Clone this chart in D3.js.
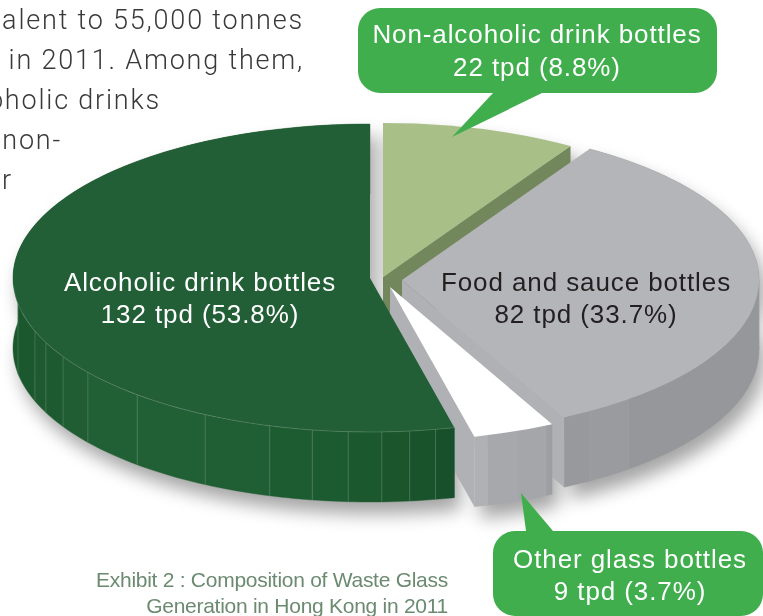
<!DOCTYPE html>
<html>
<head>
<meta charset="utf-8">
<script src="https://cdn.jsdelivr.net/npm/d3@7/dist/d3.min.js"></script>
<style>
html,body{margin:0;padding:0;background:#fff;overflow:hidden}
svg{display:block;font-family:"Liberation Sans",Arial,sans-serif}
</style>
</head>
<body>
<div id="chart"></div>
<script>
// Composition of waste glass, tonnes per day and share of the total
const categories = ["Non-alcoholic drink bottles", "Food and sauce bottles", "Other glass bottles", "Alcoholic drink bottles"];
const tpd = [22, 82, 9, 132];
const shares = [8.8, 33.7, 3.7, 53.8];

// Body copy running beside the chart
const bodyLines = ["alent to 55,000 tonnes", "in 2011. Among them,", "oholic drinks", "non-", "or"];
const captionLines = ["Exhibit 2 : Composition of Waste Glass", "Generation in Hong Kong in 2011"];

// Where the moulded side walls of each slice change facet (degrees clockwise from 12 o'clock)
const facetAngles = [
  [],
  [90, 140.7, 148.2],
  [154.1, 159.3, 164.2],
  [169.4, 173.6, 178.1, 183.5, 189.3, 196.3, 207.5, 220.7, 232.2, 239.3, 245.2, 249.8, 260.4]
];
const topColors = ["#a9bf88", "#b4b5b9", "#ffffff", "#225f36"];
const cutColors = ["#73875c", "#b0b1b5", "#b0b1b5", "#225f36"];
const wallColors = [
  [],
  ["#9a9b9f", "#96979a", "#9a9b9e", "#98999d"],
  ["#9e9fa3", "#a5a6aa", "#a7a8ac", "#b0b1b5"],
  ["#17502a", "#19532b", "#1a552c", "#1b582e", "#1c5a2f", "#1d5c31", "#205e33", "#215f34", "#215f34", "#205d32", "#1e5a30", "#1d5a2f", "#1c582e", "#1b572d", "#1b572d"]
];

const width = 763, height = 616;
const rx = 357, ry = 154, depth = 70;
const squash = ry / rx;
// Exploded centre of each slice
const centres = [[383, 277], [402, 280], [390, 287], [370, 278]];

const svg = d3.select("#chart").append("svg").attr("width", width).attr("height", height);
const defs = svg.append("defs");
defs.append("filter").attr("id", "soft").attr("x", "-20%").attr("y", "-20%").attr("width", "140%").attr("height", "150%")
  .append("feGaussianBlur").attr("stdDeviation", 9);

const pie = d3.pie().sort(null).value(d => d);
const slices = pie(shares);
const arc = d3.arc().innerRadius(0).outerRadius(rx);
const deg = d3.scaleLinear().domain([0, 360]).range([0, 2 * Math.PI]);

const rim = (i, a, dy = 0) => [centres[i][0] + rx * Math.sin(a), centres[i][1] - ry * Math.cos(a) + dy];
const line = d3.line();

function wallBand(i, a0, a1) {
  const n = Math.max(2, Math.ceil(Math.abs(a1 - a0) / 0.02));
  const steps = d3.range(0, n + 1).map(k => a0 + (a1 - a0) * k / n);
  const upper = steps.map(a => rim(i, a));
  const lower = steps.slice().reverse().map(a => rim(i, a, depth));
  return line(upper.concat(lower)) + "Z";
}
function cutWall(i, a) {
  const c = centres[i];
  const e = rim(i, a);
  return line([c, e, [e[0], e[1] + depth], [c[0], c[1] + depth]]) + "Z";
}
function topPath(i) { return arc(slices[i]); }
function topTransform(i) { return `translate(${centres[i][0]},${centres[i][1]}) scale(1,${squash})`; }

// Blurred ground shadow, thrown down and to the right of every slice
const shadow = svg.append("g").attr("filter", "url(#soft)").attr("fill", "#000").attr("opacity", 0.36).attr("transform", "translate(6,12)");
slices.forEach((s, i) => {
  shadow.append("path").attr("d", wallBand(i, s.startAngle, s.endAngle));
  shadow.append("path").attr("d", topPath(i)).attr("transform", topTransform(i));
});

const solid = svg.append("g");
function drawWalls(i) {
  const s = slices[i];
  const stops = facetAngles[i].map(d => deg(d));
  const edges = [s.startAngle, ...stops, s.endAngle];
  wallColors[i].forEach((c, k) => {
    if (k + 1 >= edges.length) return;
    solid.append("path").attr("d", wallBand(i, edges[k], edges[k + 1])).attr("fill", c).attr("stroke", c).attr("stroke-width", 0.4);
  });
  stops.forEach(a => {
    solid.append("path").attr("d", line([rim(i, a), rim(i, a, depth)]))
      .attr("stroke", "#fff").attr("stroke-opacity", i === 3 ? 0.16 : 0.05).attr("fill", "none");
  });
}
function drawTop(i) {
  solid.append("path").attr("d", topPath(i)).attr("transform", topTransform(i)).attr("fill", topColors[i]);
}

// Painter's order: far slices first, nearest slice last
solid.append("path").attr("d", cutWall(0, slices[0].endAngle)).attr("fill", cutColors[0]);
drawTop(0);
drawWalls(1);
solid.append("path").attr("d", cutWall(1, slices[1].endAngle)).attr("fill", cutColors[1]);
drawTop(1);
drawWalls(2);
solid.append("path").attr("d", cutWall(2, slices[2].endAngle)).attr("fill", cutColors[2]);
drawTop(2);
drawWalls(3);
drawTop(3);

// Faint highlight along the front rim of the largest slice
const rimAngles = d3.range(slices[3].startAngle, deg(268), 0.02);
solid.append("path").attr("d", line(rimAngles.map(a => rim(3, a))))
  .attr("fill", "none").attr("stroke", "#fff").attr("stroke-opacity", 0.22).attr("stroke-width", 0.7);

// Callouts
const bubble = "#41ae4e";
function callout(x0, y0, x1, y1, r, tail) {
  const p = d3.path();
  p.moveTo(x0 + r, y0);
  if (tail.side === "top") { p.lineTo(tail.a, y0); p.lineTo(tail.tx, tail.ty); p.lineTo(tail.b, y0); }
  p.arcTo(x1, y0, x1, y1, r);
  p.arcTo(x1, y1, x0, y1, r);
  if (tail.side === "bottom") { p.lineTo(tail.b, y1); p.lineTo(tail.tx, tail.ty); p.lineTo(tail.a, y1); }
  p.arcTo(x0, y1, x0, y0, r);
  p.arcTo(x0, y0, x1, y0, r);
  p.closePath();
  return p.toString();
}
svg.append("path").attr("d", callout(358, 8, 717, 93, 22, {side: "bottom", a: 493, b: 542, tx: 452, ty: 137})).attr("fill", bubble);
svg.append("path").attr("d", callout(493, 531, 763, 616, 22, {side: "top", a: 526, b: 553, tx: 521, ty: 493})).attr("fill", bubble);

// Two-line slice labels
const labelSpots = [
  {x: 537, y: 43, fill: "#fff"},
  {x: 586, y: 291, fill: "#231f20"},
  {x: 630, y: 568, fill: "#fff"},
  {x: 200, y: 291, fill: "#fff"}
];
const lineGap = [33, 32, 32, 32];
categories.forEach((name, i) => {
  const t = svg.append("text").attr("text-anchor", "middle").attr("fill", labelSpots[i].fill)
    .style("font-size", "26px").style("letter-spacing", "0.9px");
  t.append("tspan").attr("x", labelSpots[i].x).attr("y", labelSpots[i].y).text(name);
  t.append("tspan").attr("x", labelSpots[i].x).attr("y", labelSpots[i].y + lineGap[i]).text(`${tpd[i]} tpd (${shares[i]}%)`);
});

// Body copy
const bodyEnds = [304, 304, 161, 62, 13];
bodyLines.forEach((s, i) => {
  svg.append("text").attr("x", bodyEnds[i]).attr("y", 29 + i * 40).attr("text-anchor", "end")
    .attr("fill", "#39393b").style("font-size", "27px").style("letter-spacing", "1.8px")
    .style("font-family", "Roboto, 'Liberation Sans', sans-serif").style("font-weight", 300).text(s);
});

// Caption
captionLines.forEach((s, i) => {
  svg.append("text").attr("x", 448).attr("y", 587 + i * 25.5).attr("text-anchor", "end")
    .attr("fill", "#6b8a70").style("font-size", "21px").style("letter-spacing", "-0.27px").text(s);
});
</script>
</body>
</html>
